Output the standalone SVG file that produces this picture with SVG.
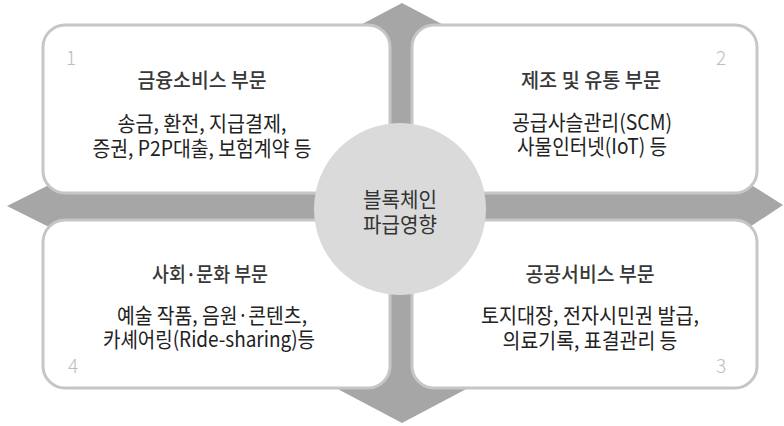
<svg xmlns="http://www.w3.org/2000/svg" width="784" height="426" viewBox="0 0 784 426">
<style>
.box{fill:#ffffff;stroke:#c6c6c6;stroke-width:3}
.arrow{fill:#a6a6a6}
.hub{fill:#dadada}
.title{font-family:"Noto Sans CJK KR","Noto Sans",sans-serif;font-size:20px;fill:#383838;text-anchor:middle;font-weight:500}
.body{font-family:"Noto Sans CJK KR","Noto Sans",sans-serif;font-size:21px;fill:#222222;text-anchor:middle}
.num{font-family:"Noto Sans CJK KR","Noto Sans",sans-serif;font-size:19px;fill:#bdbdbd;text-anchor:middle;font-weight:300}
.hubtxt{font-family:"Noto Sans CJK KR","Noto Sans",sans-serif;font-size:21px;fill:#333333;text-anchor:middle}
</style>
<rect width="784" height="426" fill="#ffffff"/>
<g id="connectors">
<polygon class="arrow" points="402,3 472,40 472,166 721,166 783,205 721,246 472,246 472,386 402,423 332,386 332,246 87,246 7,206 87,166 332,166 332,40"/>
</g>
<g id="node1">
<rect class="box" x="43" y="25" width="347" height="168" rx="22"/>
<text class="num" x="71" y="65">1</text>
<text class="title" x="202" y="88" textLength="129" lengthAdjust="spacingAndGlyphs">금융소비스 부문</text>
<text class="body" x="202" y="131" textLength="169" lengthAdjust="spacingAndGlyphs">송금, 환전, 지급결제,</text>
<text class="body" x="202" y="156" textLength="219" lengthAdjust="spacingAndGlyphs">증권, P2P대출, 보험계약 등</text>
</g>
<g id="node2">
<rect class="box" x="412" y="25" width="345" height="168" rx="22"/>
<text class="num" x="721" y="65">2</text>
<text class="title" x="591" y="88" textLength="140" lengthAdjust="spacingAndGlyphs">제조 및 유통 부문</text>
<text class="body" x="592" y="130" textLength="160" lengthAdjust="spacingAndGlyphs">공급사슬관리(SCM)</text>
<text class="body" x="592" y="154" textLength="150" lengthAdjust="spacingAndGlyphs">사물인터넷(IoT) 등</text>
</g>
<g id="node3">
<rect class="box" x="412" y="220" width="345" height="168" rx="22"/>
<text class="num" x="721" y="373">3</text>
<text class="title" x="590" y="282" textLength="129" lengthAdjust="spacingAndGlyphs">공공서비스 부문</text>
<text class="body" x="590" y="323" textLength="218" lengthAdjust="spacingAndGlyphs">토지대장, 전자시민권 발급,</text>
<text class="body" x="590" y="348" textLength="175" lengthAdjust="spacingAndGlyphs">의료기록, 표결관리 등</text>
</g>
<g id="node4">
<rect class="box" x="43" y="220" width="347" height="168" rx="22"/>
<text class="num" x="73" y="373">4</text>
<text class="title" x="210" y="282" textLength="116" lengthAdjust="spacingAndGlyphs">사회·문화 부문</text>
<text class="body" x="212" y="323" textLength="190" lengthAdjust="spacingAndGlyphs">예술 작품, 음원·콘텐츠,</text>
<text class="body" x="209" y="347" textLength="212" lengthAdjust="spacingAndGlyphs">카셰어링(Ride-sharing)등</text>
</g>
<g id="hub">
<circle class="hub" cx="400" cy="209" r="86"/>
<text class="hubtxt" x="400" y="207" textLength="74" lengthAdjust="spacingAndGlyphs">블록체인</text>
<text class="hubtxt" x="400" y="232" textLength="74" lengthAdjust="spacingAndGlyphs">파급영향</text>
</g>
</svg>
